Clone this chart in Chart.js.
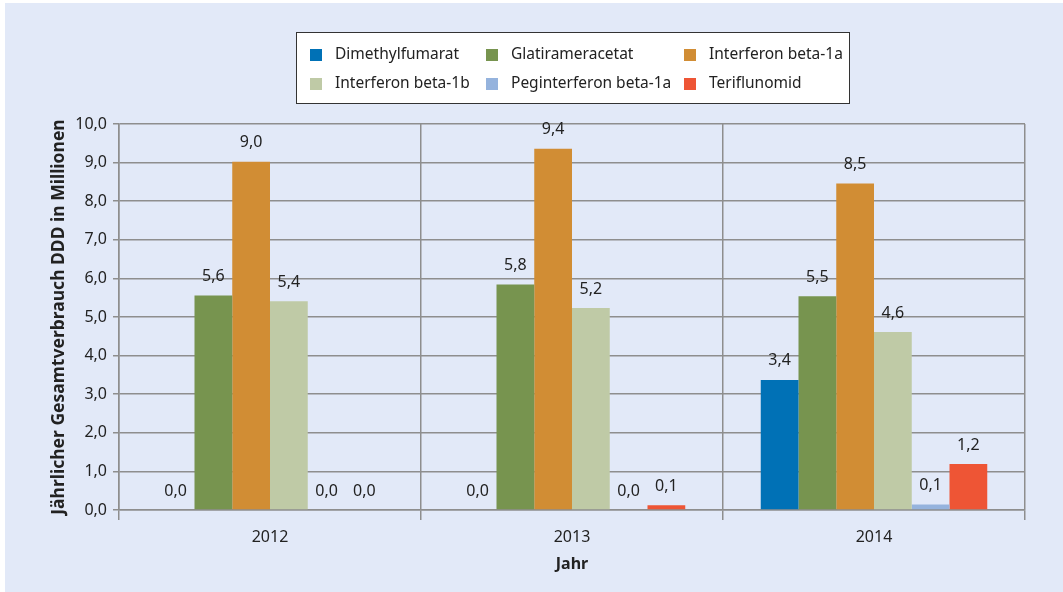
<!DOCTYPE html>
<html>
<head>
<meta charset="utf-8">
<script src="https://cdn.jsdelivr.net/npm/chart.js@4"></script>
<style>
  body { margin: 0; background: #ffffff; }
  #wrap { position: absolute; left: 5px; top: 3px; width: 1058px; height: 589px; background: #e2e9f8; }
</style>
</head>
<body>
<div id="wrap"><canvas id="chart"></canvas></div>
<script>
// data (DDD in Mio.)
const years = ['2012', '2013', '2014'];
const seriesNames = ['Dimethylfumarat', 'Glatirameracetat', 'Interferon beta-1a', 'Interferon beta-1b', 'Peginterferon beta-1a', 'Teriflunomid'];
const dimethylfumarat = [0, 0, 3.37];
const glatirameracetat = [5.56, 5.84, 5.54];
const interferon1a = [9.02, 9.36, 8.46];
const interferon1b = [5.41, 5.23, 4.61];
const peginterferon1a = [0, 0, 0.14];
const teriflunomid = [0, 0.12, 1.19];
const seriesColors = ['#0071b6', '#77944f', '#d18d34', '#bfcaa6', '#95b3dd', '#ee5535'];

const FONT = 'Noto Sans';
const fmt = v => v.toFixed(1).replace('.', ',');

// labels above bars
const valueLabels = {
  id: 'valueLabels',
  afterDatasetsDraw(chart) {
    const ctx = chart.ctx;
    ctx.save();
    ctx.font = '16px "' + FONT + '"';
    ctx.fillStyle = '#222';
    ctx.textAlign = 'center';
    ctx.textBaseline = 'middle';
    chart.data.datasets.forEach((ds, i) => {
      chart.getDatasetMeta(i).data.forEach((bar, j) => {
        ctx.fillText(fmt(ds.data[j]), bar.x, bar.y - 19);
      });
    });
    ctx.restore();
  }
};

// boxed legend, 3 columns x 2 rows
const boxLegend = {
  id: 'boxLegend',
  afterDraw(chart) {
    const ctx = chart.ctx;
    const bx = 291, by = 29, bw = 553, bh = 71;
    const cols = [305, 481, 679];
    const rows = [52, 81];
    ctx.save();
    ctx.fillStyle = '#ffffff';
    ctx.fillRect(bx, by, bw, bh);
    ctx.strokeStyle = '#333';
    ctx.lineWidth = 1;
    ctx.strokeRect(bx + 0.5, by + 0.5, bw, bh);
    ctx.font = '15.5px "' + FONT + '"';
    ctx.textBaseline = 'middle';
    chart.data.datasets.forEach((ds, i) => {
      const x = cols[i % 3], y = rows[Math.floor(i / 3)];
      ctx.fillStyle = ds.backgroundColor;
      ctx.fillRect(x, y - 6, 12, 12);
      ctx.fillStyle = '#222';
      ctx.fillText(ds.label, x + 25, y);
    });
    ctx.restore();
  }
};

const allData = [dimethylfumarat, glatirameracetat, interferon1a, interferon1b, peginterferon1a, teriflunomid];

new Chart(document.getElementById('chart').getContext('2d'), {
  type: 'bar',
  data: {
    labels: years,
    datasets: seriesNames.map((name, i) => ({
      label: name,
      data: allData[i],
      backgroundColor: seriesColors[i],
      borderWidth: 0
    }))
  },
  options: {
    responsive: true,
    maintainAspectRatio: false,
    animation: false,
    layout: { padding: { left: 0, top: 121, right: 38, bottom: 0 } },
    datasets: { bar: { categoryPercentage: 0.75, barPercentage: 1 } },
    plugins: { legend: { display: false }, tooltip: { enabled: false } },
    scales: {
      x: {
        grid: { color: '#8e8e8e', lineWidth: 1.5, tickLength: 10, offset: true },
        border: { color: '#8e8e8e', width: 1.5 },
        ticks: { color: '#222', font: { family: FONT, size: 16 }, padding: 8 },
        title: { display: true, text: 'Jahr', color: '#222', font: { family: FONT, size: 16, weight: 'bold' }, padding: { top: 4, bottom: 18 } },
        afterFit(scale) { scale.height = 82; }
      },
      y: {
        min: 0, max: 10,
        ticks: { stepSize: 1, color: '#222', font: { family: FONT, size: 16 }, padding: 6, callback: v => fmt(v) },
        grid: { color: '#8e8e8e', lineWidth: 1.5, tickLength: 6 },
        border: { color: '#8e8e8e', width: 1.5 },
        title: { display: true, text: 'Jährlicher Gesamtverbrauch DDD in Millionen', color: '#222', font: { family: FONT, size: 17.5, weight: 'bold' }, padding: { top: 44, bottom: 0 } },
        afterFit(scale) { scale.width = 114; }
      }
    }
  },
  plugins: [valueLabels, boxLegend]
});
</script>
</body>
</html>
